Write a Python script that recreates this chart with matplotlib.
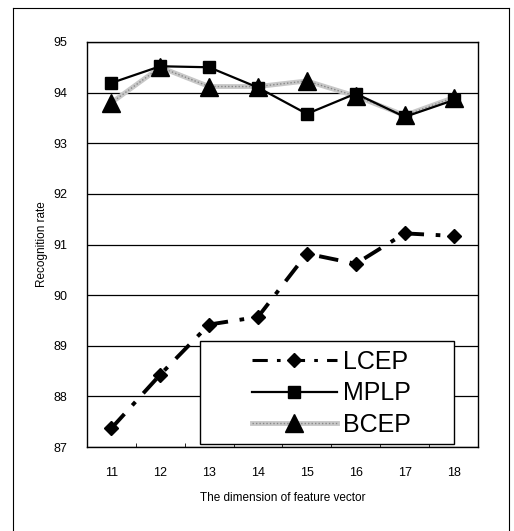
import numpy as np
import matplotlib.pyplot as plt
from matplotlib.legend_handler import HandlerTuple
from matplotlib.lines import Line2D
from matplotlib.patches import Rectangle

plt.rcParams['font.family'] = ['Liberation Sans', 'DejaVu Sans']

# datos
dims = [11, 12, 13, 14, 15, 16, 17, 18]
lcep = [87.37, 88.43, 89.42, 89.57, 90.82, 90.62, 91.22, 91.17]
mplp = [94.19, 94.52, 94.50, 94.10, 93.58, 93.98, 93.52, 93.85]
bcep = [93.80, 94.50, 94.12, 94.12, 94.23, 93.93, 93.55, 93.90]

fig = plt.figure(figsize=(5.14, 5.31), dpi=100)
ax = fig.add_axes([0.169, 0.158, 0.761, 0.763])

x = np.arange(len(dims))

# BCEP: linea gris gruesa con punteado
ax.plot(x, bcep, color='#c8c8c8', lw=3.5, zorder=3)
ax.plot(x, bcep, color='#888888', lw=1, ls=(0, (1, 1.5)), zorder=3.1)
ax.plot(x, bcep, ls='none', marker='^', ms=13, color='black', zorder=4)

# MPLP
ax.plot(x, mplp, color='black', lw=1.6, marker='s', ms=9, zorder=5)

# LCEP
ax.plot(x, lcep, color='black', lw=2.8, ls=(0, (5, 3, 1.2, 3)), marker='D', ms=7, zorder=5)

ax.set_xlim(-0.5, len(dims) - 0.5)
ax.set_ylim(87, 95)
ax.set_yticks(np.arange(87, 96, 1))
ax.yaxis.grid(True, color='black', lw=0.9)
ax.set_axisbelow(True)
ax.tick_params(axis='y', length=0, labelsize=9, pad=14)
ax.set_xticks(x)
ax.set_xticklabels([str(d) for d in dims], fontsize=9)
ax.tick_params(axis='x', length=0, pad=14)
ax.set_xticks(np.arange(0.5, len(dims) - 1, 1), minor=True)
ax.tick_params(axis='x', which='minor', direction='in', length=3, color='black')
for s in ax.spines.values():
    s.set_linewidth(1.0)

ax.set_ylabel('Recognition rate', fontsize=8.5, labelpad=4)
ax.set_xlabel('The dimension of feature vector', fontsize=8.5, labelpad=10)

# caja de la leyenda
ax.add_patch(Rectangle((0.289, 0.007), 0.65, 0.255, transform=ax.transAxes,
                       facecolor='white', edgecolor='black', lw=1.0, zorder=9))

h_lcep = Line2D([], [], color='black', lw=2.2, ls=(0, (5, 3, 1.2, 3)), marker='D', ms=7)
h_mplp = Line2D([], [], color='black', lw=1.6, marker='s', ms=9)
h_b1 = Line2D([], [], color='#c8c8c8', lw=3.5)
h_b2 = Line2D([], [], color='#888888', lw=1, ls=(0, (1, 1.5)))
h_b3 = Line2D([], [], ls='none', marker='^', ms=13, color='black')
leg = ax.legend([h_lcep, h_mplp, (h_b1, h_b2, h_b3)], ['LCEP', 'MPLP', 'BCEP'],
                handler_map={tuple: HandlerTuple(ndivide=1, pad=0)},
                loc='upper left', bbox_to_anchor=(0.422, 0.24), fontsize=18,
                handlelength=3.4, handletextpad=0.25, frameon=False,
                borderpad=0, borderaxespad=0, labelspacing=0.3)
leg.set_zorder(10)

# marco exterior
fig.add_artist(Line2D([13/514, 13/514], [0, 1 - 8/531], color='black', lw=0.8))
fig.add_artist(Line2D([13/514, 509/514], [1 - 8/531, 1 - 8/531], color='black', lw=0.8))
fig.add_artist(Line2D([509/514, 509/514], [0, 1 - 8/531], color='black', lw=0.8))

fig.savefig('out.png', dpi=100)
